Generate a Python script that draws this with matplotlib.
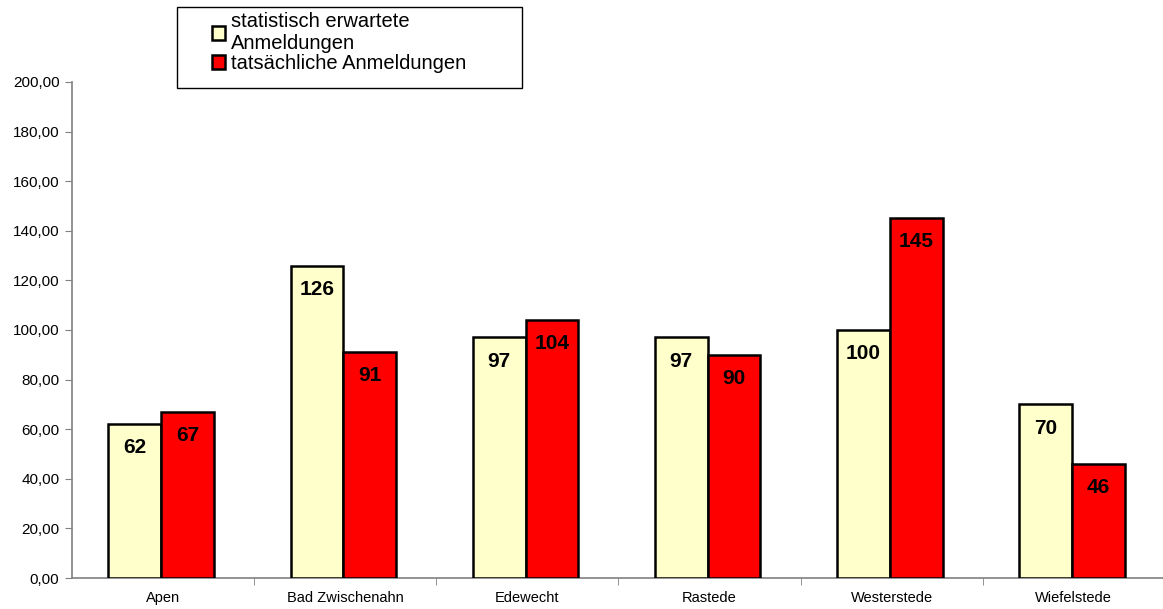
import matplotlib.pyplot as plt
from matplotlib.patches import Rectangle
import numpy as np

plt.rcParams['font.family'] = ['Liberation Sans', 'DejaVu Sans']

# Data
orte = ['Apen', 'Bad Zwischenahn', 'Edewecht', 'Rastede', 'Westerstede', 'Wiefelstede']
erwartet = [62, 126, 97, 97, 100, 70]
tatsaechlich = [67, 91, 104, 90, 145, 46]
y_ticks = [0, 20, 40, 60, 80, 100, 120, 140, 160, 180, 200]

fig = plt.figure(figsize=(11.63, 6.09), dpi=100)
ax = fig.add_axes([0.0619, 0.0509, 0.9381, 0.8145])

x = np.arange(len(orte))
w = 0.29
b1 = ax.bar(x - w / 2 - 0.01, erwartet, w, color='#FFFFCC', edgecolor='black',
            linewidth=1.8, label='statistisch erwartete\nAnmeldungen', zorder=3)
b2 = ax.bar(x + w / 2 - 0.01, tatsaechlich, w, color='#FF0000', edgecolor='black',
            linewidth=1.8, label='tatsächliche Anmeldungen', zorder=3)

# value labels inside the bar tops
for bars, vals in [(b1, erwartet), (b2, tatsaechlich)]:
    for rect, v in zip(bars, vals):
        ax.annotate(str(v), (rect.get_x() + rect.get_width() / 2, v),
                    xytext=(0, -17), textcoords='offset points',
                    ha='center', va='center', fontsize=15, fontweight='bold', zorder=4)

ax.set_ylim(0, 200)
ax.set_xlim(-0.5, 5.49)
ax.set_yticks(y_ticks)
ax.set_yticklabels([f'{v:.2f}'.replace('.', ',') for v in y_ticks], fontsize=11)
ax.set_xticks(x)
ax.set_xticklabels(orte, fontsize=10.5)
ax.tick_params(axis='x', which='major', length=0, pad=9)
ax.set_xticks(np.arange(0.5, 5.5, 1), minor=True)
ax.tick_params(axis='x', which='minor', length=5, color='#808080', direction='out')
ax.tick_params(axis='y', length=5, color='#808080', direction='out', pad=4)

for s in ['top', 'right']:
    ax.spines[s].set_visible(False)
for s in ['left', 'bottom']:
    ax.spines[s].set_color('#808080')
    ax.spines[s].set_linewidth(1.2)

# legend box drawn separately, entries placed inside
fig.patches.append(Rectangle((177 / 1163, 1 - 88 / 609), 345 / 1163, 81 / 609,
                             transform=fig.transFigure, facecolor='white',
                             edgecolor='black', linewidth=1.0))
leg = fig.legend(loc='upper left', bbox_to_anchor=(208 / 1163, 1 - 8 / 609), fontsize=14.5,
                 frameon=False, handlelength=0.65, handleheight=0.65, handletextpad=0.3,
                 borderpad=0.2, labelspacing=0.05, borderaxespad=0)

plt.savefig('out.png', dpi=100)
